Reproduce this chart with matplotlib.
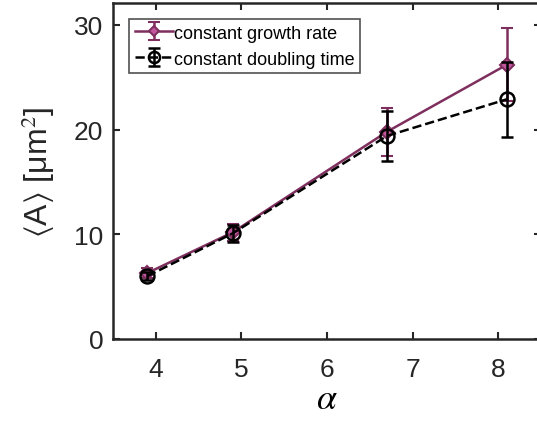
import matplotlib
matplotlib.use("Agg")
import matplotlib.pyplot as plt

alpha = [3.9, 4.9, 6.7, 8.1]
growth_mean = [6.3, 10.2, 19.8, 26.2]
growth_err = [0.5, 0.8, 2.3, 3.5]
doubling_mean = [6.0, 10.1, 19.4, 22.9]
doubling_err = [0.4, 0.8, 2.4, 3.6]

plt.rcParams['font.family'] = ['Liberation Sans', 'DejaVu Sans']
plt.rcParams['mathtext.fontset'] = 'stix'

fig = plt.figure(figsize=(5.37, 4.27), dpi=100)
ax = fig.add_axes([113/537, 1-340/427, (541-113)/537, (340-4)/427])

purple = '#7E2F5E'
pface = '#C2579E'
ax.errorbar(alpha, growth_mean, yerr=growth_err, color=purple, lw=1.8,
            marker='D', ms=7, mfc=pface, mec=purple, mew=1.5,
            capsize=4, capthick=2, elinewidth=1.8, label='constant growth rate', zorder=3)
ax.errorbar(alpha, doubling_mean, yerr=doubling_err, color='black', lw=1.8, ls='--',
            marker='o', ms=10, mfc='none', mec='black', mew=1.8,
            capsize=4, capthick=2, elinewidth=1.8, label='constant doubling time', zorder=4)

ax.set_xlim(3.5, 8.5)
ax.set_ylim(0, 32.1)
ax.set_xticks([4, 5, 6, 7, 8])
ax.set_yticks([0, 10, 20, 30])
ax.tick_params(direction='in', length=5, width=1.5, labelsize=19, colors='#262626',
               top=True, right=True)
ax.tick_params(axis='x', pad=13)
ax.tick_params(axis='y', pad=7)
for s in ax.spines.values():
    s.set_linewidth(1.8)
    s.set_color('#262626')

ax.set_xlabel(r'$\alpha$', fontsize=26, labelpad=0)
ax.set_ylabel(r'$\langle$A$\rangle$ [μm$^2$]', fontsize=23, color='#262626', labelpad=12)

leg = ax.legend(loc='upper left', fontsize=13, frameon=True, fancybox=False,
                edgecolor='#262626', borderpad=0.3, handlelength=2.1,
                handletextpad=0.1, labelspacing=0.5, borderaxespad=0.9,
                markerscale=0.8)
leg.get_frame().set_linewidth(1.2)

fig.savefig('out.png', dpi=100)
